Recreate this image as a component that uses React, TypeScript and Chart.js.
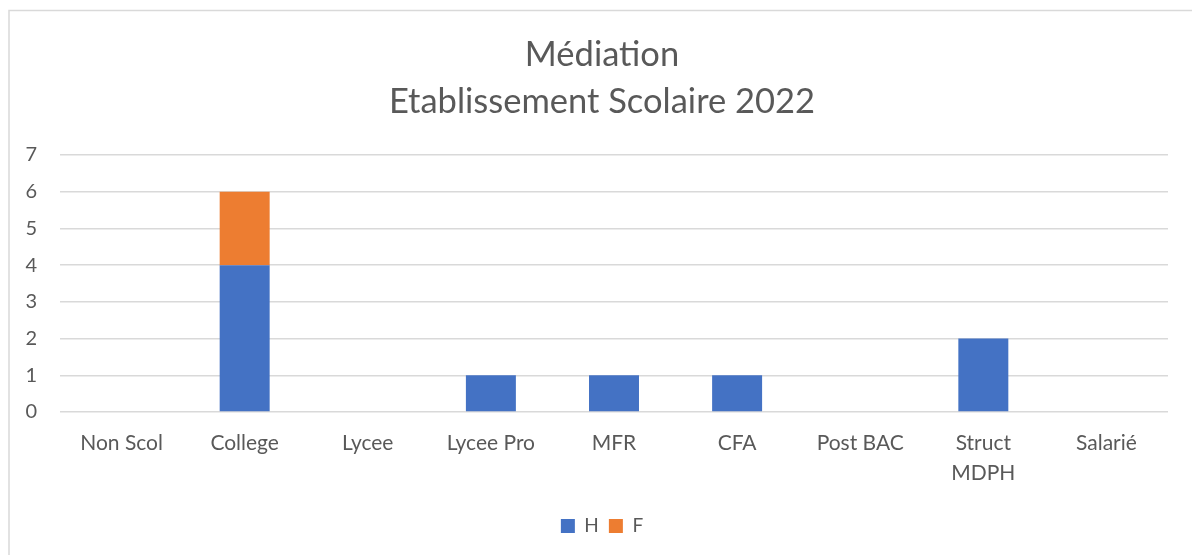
import React, { useEffect, useRef } from 'react';
import { Chart, registerables } from 'chart.js';

Chart.register(...registerables);

const categories: (string | string[])[] = [
  'Non Scol',
  'College',
  'Lycee',
  'Lycee Pro',
  'MFR',
  'CFA',
  'Post BAC',
  ['Struct', 'MDPH'],
  'Salarié',
];
const hValues = [0, 4, 0, 1, 1, 1, 0, 2, 0];
const fValues = [0, 2, 0, 0, 0, 0, 0, 0, 0];
const seriesNames = ['H', 'F'];
const titleLines = ['Médiation', 'Etablissement Scolaire 2022'];
const yMin = 0;
const yMax = 7;
const yStep = 1;

const TEXT = '#595959';
const GRID = '#d9d9d9';
const FONT = 'Lato, "Open Sans", sans-serif';

const borderPlugin = {
  id: 'outerBorder',
  beforeDraw(chart: any) {
    const { ctx, width, height } = chart;
    ctx.save();
    ctx.fillStyle = '#ffffff';
    ctx.fillRect(0, 0, width, height);
    ctx.strokeStyle = GRID;
    ctx.lineWidth = 1.5;
    ctx.beginPath();
    ctx.moveTo(9, height + 2);
    ctx.lineTo(9, 10.5);
    ctx.lineTo(width + 2, 10.5);
    ctx.stroke();
    ctx.restore();
  },
};

export default function App() {
  const ref = useRef<HTMLCanvasElement | null>(null);

  useEffect(() => {
    if (!ref.current) return;
    const chart = new Chart(ref.current, {
      type: 'bar',
      data: {
        labels: categories as any,
        datasets: [
          {
            label: seriesNames[0],
            data: hValues,
            backgroundColor: '#4472C4',
            borderWidth: 0,
            barPercentage: 0.406,
            categoryPercentage: 1,
          },
          {
            label: seriesNames[1],
            data: fValues,
            backgroundColor: '#ED7D31',
            borderWidth: 0,
            barPercentage: 0.406,
            categoryPercentage: 1,
          },
        ],
      },
      options: {
        animation: false,
        responsive: false,
        maintainAspectRatio: false,
        layout: { padding: { left: 12, right: 0, top: 0, bottom: 9.5 } },
        plugins: {
          title: {
            display: true,
            text: titleLines,
            color: TEXT,
            font: { family: FONT, size: 34.5, weight: 'normal', lineHeight: '47px' },
            padding: { top: 31.5, bottom: 29.5 },
          },
          legend: {
            display: true,
            position: 'bottom',
            labels: {
              color: TEXT,
              font: { family: FONT, size: 19 },
              boxWidth: 14,
              boxHeight: 14,
              padding: 10,
            },
          },
          tooltip: { enabled: false },
        },
        scales: {
          x: {
            stacked: true,
            grid: { display: false, drawTicks: false },
            border: { display: false },
            ticks: {
              color: TEXT,
              font: { family: FONT, size: 21, lineHeight: '30px' },
              padding: 16,
              maxRotation: 0,
              autoSkip: false,
            },
            afterFit(scale: any) {
              scale.height = 94.5;
            },
          },
          y: {
            stacked: true,
            min: yMin,
            max: yMax,
            grid: { color: GRID, lineWidth: 1.5, drawTicks: false },
            border: { display: false },
            ticks: {
              stepSize: yStep,
              color: TEXT,
              font: { family: FONT, size: 20 },
              padding: 23,
            },
            afterFit(scale: any) {
              scale.width = 48;
            },
          },
          rightGap: {
            type: 'linear',
            position: 'right',
            display: true,
            grid: { display: false, drawTicks: false },
            border: { display: false },
            ticks: { display: false },
            afterFit(scale: any) {
              scale.width = 24;
            },
          },
        },
      },
      plugins: [borderPlugin],
    });
    return () => chart.destroy();
  }, []);

  return (
    <canvas
      ref={ref}
      width={1192}
      height={555}
      style={{ position: 'fixed', left: 0, top: 0, width: 1192, height: 555 }}
    />
  );
}
